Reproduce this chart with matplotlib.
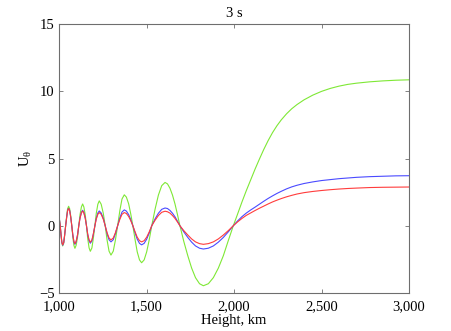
import matplotlib
matplotlib.use("Agg")
import matplotlib.pyplot as plt
from matplotlib.ticker import FuncFormatter

plt.rcParams["font.family"] = ["Liberation Serif", "DejaVu Serif"]
plt.rcParams["mathtext.fontset"] = "custom"
plt.rcParams["mathtext.rm"] = "Liberation Serif"
plt.rcParams["mathtext.it"] = "Liberation Serif"

# heights (km)
height = [1000, 1007, 1012, 1016.5, 1021,
          1027, 1032, 1038, 1044, 1049, 1055,
          1061, 1067, 1073, 1079, 1085, 1091,
          1098, 1106, 1113, 1120, 1128, 1135,
          1142, 1150, 1157, 1164, 1172, 1179,
          1188, 1196, 1205, 1213, 1222, 1230,
          1241, 1253, 1264, 1275, 1286, 1297,
          1310, 1322, 1335, 1348, 1360, 1373,
          1385, 1398, 1410, 1422, 1435, 1447, 1460, 1472,
          1486.5, 1501, 1515.5, 1530, 1549, 1568, 1587, 1606,
          1620, 1634, 1648.5, 1663, 1677, 1691,
          1713, 1736, 1758, 1780, 1803, 1825,
          1853.5, 1882, 1910.5, 1939, 1967.5, 1996,
          2020, 2045, 2070, 2095, 2120, 2145, 2170, 2195, 2220, 2245,
          2270, 2300, 2330, 2360, 2400, 2450, 2500, 2550, 2600, 2650,
          2700, 2775, 2850, 2925, 3000]

u_green = [0.7, 0.0, -0.75, -1.30, -1.50,
           -1.30, -0.75, 0.0, 0.73, 1.26, 1.45,
           1.26, 0.73, 0.0, -0.84, -1.45, -1.68,
           -1.45, -0.84, 0.0, 0.81, 1.40, 1.62,
           1.40, 0.81, 0.0, -0.95, -1.65, -1.90,
           -1.65, -0.95, 0.0, 0.93, 1.60, 1.85,
           1.60, 0.93, 0.0, -1.09, -1.89, -2.18,
           -1.89, -1.09, 0.0, 1.15, 1.99, 2.30,
           2.13, 1.63, 0.88, 0.0, -1.05, -1.94, -2.54, -2.75,
           -2.54, -1.94, -1.05, 0.0, 1.23, 2.28, 2.98, 3.22,
           3.11, 2.79, 2.28, 1.61, 0.83, 0.0,
           -1.16, -2.23, -3.15, -3.86, -4.31, -4.46,
           -4.31, -3.86, -3.15, -2.23, -1.10, 0.0,
           0.85, 1.75, 2.60, 3.40, 4.20, 4.95, 5.67, 6.33, 6.92, 7.43,
           7.87, 8.32, 8.70, 9.01, 9.36, 9.71, 9.99, 10.21, 10.38, 10.51,
           10.60, 10.70, 10.77, 10.82, 10.85]

u_blue = [0.7, 0.0, -0.72, -1.26, -1.45,
          -1.26, -0.73, 0.0, 0.65, 1.13, 1.30,
          1.13, 0.65, 0.0, -0.69, -1.20, -1.38,
          -1.20, -0.69, 0.0, 0.58, 1.00, 1.15,
          1.00, 0.58, 0.0, -0.65, -1.13, -1.30,
          -1.13, -0.65, 0.0, 0.55, 0.95, 1.10,
          0.95, 0.55, 0.0, -0.60, -1.04, -1.20,
          -1.04, -0.60, 0.0, 0.59, 1.02, 1.18,
          1.09, 0.83, 0.45, 0.0, -0.54, -1.00, -1.31, -1.42,
          -1.31, -1.00, -0.54, 0.0, 0.51, 0.93, 1.22, 1.32,
          1.28, 1.14, 0.93, 0.66, 0.34, 0.0,
          -0.45, -0.87, -1.22, -1.50, -1.67, -1.73,
          -1.67, -1.50, -1.22, -0.87, -0.45, 0.0,
          0.35, 0.67, 0.94, 1.17, 1.38, 1.60, 1.82, 2.03, 2.22, 2.40,
          2.56, 2.74, 2.89, 3.01, 3.14, 3.26, 3.36, 3.43, 3.50, 3.55,
          3.60, 3.65, 3.68, 3.71, 3.72]

u_red = [0.7, 0.0, -0.71, -1.23, -1.42,
         -1.23, -0.71, 0.0, 0.64, 1.11, 1.28,
         1.11, 0.64, 0.0, -0.67, -1.15, -1.33,
         -1.15, -0.67, 0.0, 0.55, 0.95, 1.10,
         0.95, 0.55, 0.0, -0.61, -1.06, -1.22,
         -1.06, -0.61, 0.0, 0.49, 0.85, 0.98,
         0.85, 0.49, 0.0, -0.53, -0.91, -1.05,
         -0.91, -0.53, 0.0, 0.49, 0.85, 0.98,
         0.91, 0.69, 0.38, 0.0, -0.46, -0.85, -1.11, -1.20,
         -1.11, -0.85, -0.46, 0.0, 0.41, 0.76, 1.00, 1.08,
         1.04, 0.94, 0.76, 0.54, 0.28, 0.0,
         -0.36, -0.69, -0.98, -1.20, -1.33, -1.38,
         -1.33, -1.20, -0.98, -0.69, -0.36, 0.0,
         0.28, 0.54, 0.77, 0.95, 1.13, 1.30, 1.46, 1.62, 1.77, 1.90,
         2.02, 2.15, 2.26, 2.36, 2.46, 2.55, 2.62, 2.68, 2.73, 2.77,
         2.80, 2.84, 2.86, 2.87, 2.88]

fig = plt.figure(figsize=(4.52, 3.31), dpi=100)
ax = fig.add_axes([59 / 452, 1 - 293 / 331, 350 / 452, 269 / 331])

ax.plot(height, u_green, color="#7ee835", lw=0.8)
ax.plot(height, u_blue, color="#4a4aff", lw=0.8)
ax.plot(height, u_red, color="#ff3c3c", lw=0.8)

ax.set_xlim(1000, 3000)
ax.set_ylim(-5, 15)
ax.set_xticks([1000, 1500, 2000, 2500, 3000])
ax.set_yticks([-5, 0, 5, 10, 15])
ax.xaxis.set_major_formatter(FuncFormatter(lambda v, p: "{:,.0f}".format(v)))

for s in ax.spines.values():
    s.set_color("#6e6e6e")
    s.set_linewidth(0.8)
ax.tick_params(direction="in", length=3, width=0.6, color="#6e6e6e",
               top=True, right=True, labelsize=10.5, pad=3)
ax.tick_params(axis="x", pad=5)

ax.set_title("3 s", fontsize=10.5, pad=5)
ax.set_xlabel("Height, km", fontsize=10.5, labelpad=1)
ax.set_ylabel(r"U$_\theta$", fontsize=10.5, labelpad=4)

fig.savefig("out.png", dpi=100)
